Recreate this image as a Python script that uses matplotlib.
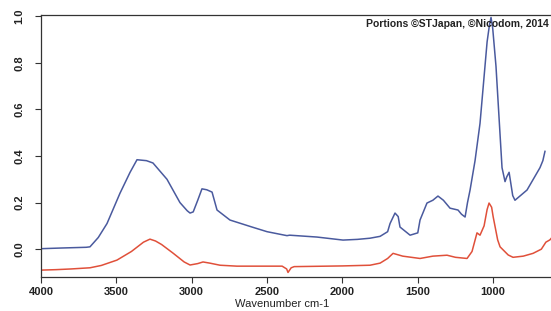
import numpy as np
import matplotlib
matplotlib.use("Agg")
import matplotlib.pyplot as plt

plt.rcParams['font.family'] = ['Liberation Sans', 'DejaVu Sans']

# blue spectrum (upper trace)
blue_wn = [4000, 3860, 3700, 3675, 3620, 3562, 3476, 3409, 3363, 3300, 3257, 3164,
           3078, 3030, 3011, 2990, 2960, 2932, 2900, 2865, 2832, 2746, 2600, 2500, 2368,
           2350, 2169, 1996, 1900, 1817, 1750, 1700, 1684, 1651, 1630, 1618, 1551,
           1500, 1485, 1439, 1400, 1366, 1330, 1286, 1233, 1210, 1186, 1170, 1153,
           1120, 1087, 1040, 1025, 1014, 1003, 981, 941, 921, 910, 894, 870, 855, 775, 689,
           670, 656]
blue_ab = [0.002, 0.005, 0.008, 0.01, 0.05, 0.11, 0.24, 0.33, 0.384, 0.38, 0.37, 0.30,
           0.20, 0.165, 0.155, 0.16, 0.21, 0.259, 0.255, 0.245, 0.168, 0.125, 0.095, 0.075, 0.058,
           0.06, 0.052, 0.039, 0.042, 0.047, 0.055, 0.075, 0.11, 0.155, 0.14, 0.095, 0.06,
           0.07, 0.125, 0.198, 0.21, 0.228, 0.21, 0.176, 0.168, 0.15, 0.138, 0.2, 0.254,
           0.38, 0.54, 0.89, 0.96, 0.995, 0.95, 0.785, 0.35, 0.29, 0.31, 0.33, 0.23, 0.21, 0.254, 0.35,
           0.38, 0.42]

# red spectrum (lower trace)
red_wn = [4000, 3900, 3800, 3675, 3600, 3496, 3400, 3320, 3277, 3240, 3200, 3124, 3050, 3011,
          2960, 2925, 2880, 2812, 2700, 2400, 2370, 2361, 2340, 2320, 2000, 1817,
          1750, 1700, 1664, 1600, 1485, 1400, 1306, 1250, 1173, 1140, 1107, 1087,
          1060, 1040, 1027, 1010, 1000, 970, 954, 900, 868, 800, 735, 680, 650, 623, 610]
red_ab = [-0.09, -0.088, -0.085, -0.08, -0.07, -0.047, -0.01, 0.03, 0.043, 0.035, 0.02, -0.017, -0.055, -0.068,
          -0.062, -0.055, -0.06, -0.069, -0.073, -0.073, -0.085, -0.1, -0.08, -0.075, -0.072, -0.069,
          -0.06, -0.04, -0.018, -0.03, -0.04, -0.03, -0.026, -0.035, -0.04, -0.01, 0.07, 0.06,
          0.1, 0.17, 0.198, 0.18, 0.14, 0.04, 0.01, -0.025, -0.035, -0.03, -0.018, 0.0, 0.03, 0.04, 0.05]

xticks = [4000, 3500, 3000, 2500, 2000, 1500, 1000]
yticks = [0.0, 0.2, 0.4, 0.6, 0.8, 1.0]

fig = plt.figure(figsize=(5.51, 3.11), dpi=100)
ax = fig.add_axes([0.0744, 0.109, 0.9256, 0.8424])

ax.plot(blue_wn, blue_ab, color='#4a5a9e', lw=1.1)
ax.plot(red_wn, red_ab, color='#e0503a', lw=1.1)

ax.set_xlim(4000, 616)
ax.set_ylim(-0.12, 1.005)
ax.set_xticks(xticks)
ax.set_yticks(yticks)
ax.set_yticklabels([f'{v:.1f}' for v in yticks], rotation=90, va='center')
ax.tick_params(axis='both', direction='out', length=4, width=0.8,
               labelsize=8, colors='#333333', labelcolor='#222222')
ax.tick_params(axis='y', pad=8)
ax.tick_params(axis='x', pad=3)
for lbl in ax.get_xticklabels() + ax.get_yticklabels():
    lbl.set_fontweight('bold')
ax.spines['right'].set_visible(False)
for s in ['left', 'bottom', 'top']:
    ax.spines[s].set_color('#333333')
    ax.spines[s].set_linewidth(0.9)

ax.set_xlabel('Wavenumber cm-1', fontsize=8, color='#222222')
ax.xaxis.set_label_coords((282 - 41) / 510, -0.085)

ax.text(0.995, 0.965, 'Portions \u00a9STJapan, \u00a9Nicodom, 2014', transform=ax.transAxes,
        ha='right', va='center', fontsize=7.5, fontweight='bold', color='#222222')

fig.savefig('out.png', dpi=100)
